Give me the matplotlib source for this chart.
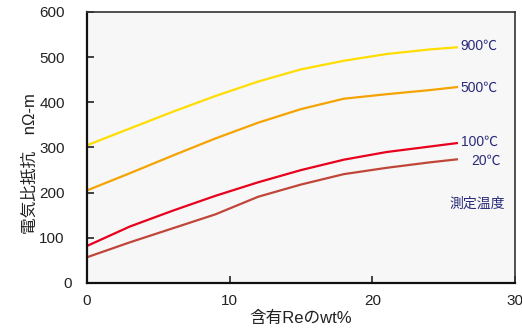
import matplotlib
matplotlib.use("Agg")
import matplotlib.pyplot as plt
import matplotlib.transforms as mtransforms

plt.rcParams['font.family'] = ['Liberation Sans', 'Noto Sans CJK JP', 'DejaVu Sans']

# Re content (wt%) and resistivity (nΩ-m) at each measuring temperature
re_wt = [0, 3, 6, 9, 12, 15, 18, 21, 24, 26]
rho_900 = [305, 342, 379, 414, 446, 473, 492, 507, 517, 522]
rho_500 = [205, 243, 282, 320, 355, 385, 408, 418, 427, 434]
rho_100 = [82, 125, 160, 193, 223, 250, 273, 290, 302, 310]
rho_20 = [57, 90, 121, 152, 191, 218, 241, 255, 267, 274]

series = [
    (rho_900, '#ffdd00', '900℃'),
    (rho_500, '#f5a300', '500℃'),
    (rho_100, '#e8001c', '100℃'),
    (rho_20, '#c0463a', '20℃'),
]
label_y = [525, 432, 312, 270]
label_x = [26.2, 26.2, 26.2, 26.9]

fig = plt.figure(figsize=(5.22, 3.29), dpi=100)
ax = fig.add_axes([87 / 522, 46 / 329, 428 / 522, 271 / 329])
ax.set_facecolor('#f7f7f7')

for (vals, col, name), ly, lx in zip(series, label_y, label_x):
    ax.plot(re_wt, vals, color=col, lw=1.6, solid_capstyle='butt')
    ax.text(lx, ly, name, color='#2a2a7a', fontsize=10, va='center', ha='left')

ax.text(25.4, 175, '測定温度', color='#2a2a7a', fontsize=10, va='center', ha='left')

ax.set_xlim(0, 30)
ax.set_ylim(0, 600)
ax.set_xticks([0, 10, 20, 30])
ax.set_yticks(range(0, 601, 100))
ax.tick_params(direction='in', length=5, width=1.2, labelsize=11, colors='#222222', pad=8)
ax.tick_params(axis='y', pad=16)

# the y "0" sits a little closer to the axis
zero_lbl = ax.yaxis.get_major_ticks()[0].label1
zero_lbl.set_transform(zero_lbl.get_transform() +
                       mtransforms.ScaledTranslation(7 / 100, 0, fig.dpi_scale_trans))

for side in ['left', 'bottom']:
    ax.spines[side].set_linewidth(1.6)
    ax.spines[side].set_color('#111111')
for side in ['top', 'right']:
    ax.spines[side].set_linewidth(1.2)
    ax.spines[side].set_color('#333333')

ax.set_xlabel('含有Reのwt%', fontsize=12, labelpad=2, color='#222222')
ax.set_ylabel('電気比抵抗　nΩ-m', fontsize=12, color='#222222')
ax.yaxis.set_label_coords(-0.115, 0.44)

fig.savefig('out.png', dpi=100)
